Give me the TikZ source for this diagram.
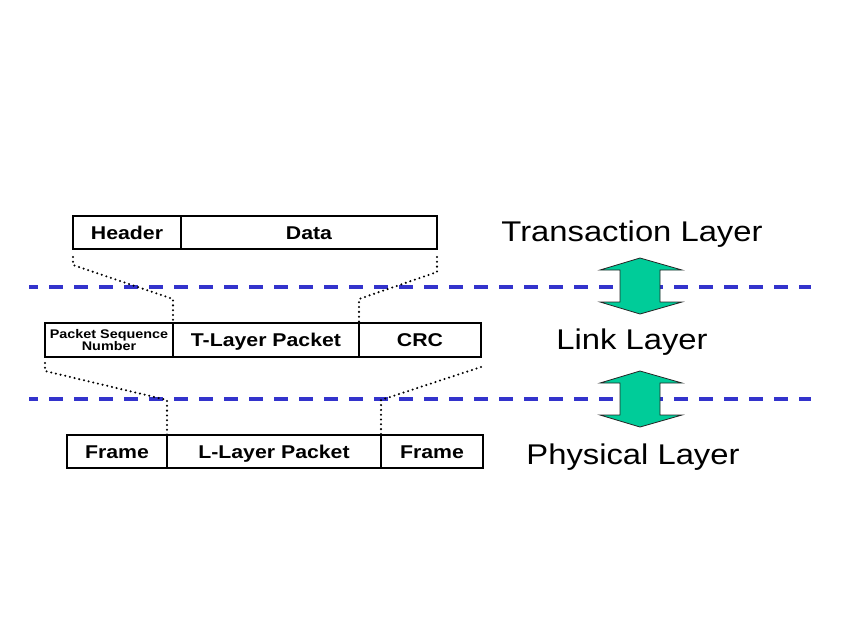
\documentclass[tikz,border=0pt]{standalone}
\usepackage{fontspec}
\usetikzlibrary{calc}
\newfontfamily\slidefont{Liberation Sans}
\newcommand{\wide}[1]{\scalebox{1.15}[1]{#1}}
\definecolor{sepblue}{RGB}{51,51,204}
\definecolor{arrowgreen}{RGB}{0,204,153}

\begin{document}
\begin{tikzpicture}[
    x=1pt,
    y=-1pt,
    every node/.style={font=\slidefont},
    cell/.style={draw, line width=2pt, rectangle, anchor=north west, inner sep=0pt, outer sep=0pt,
        text height=13.2pt, text depth=0pt, font=\slidefont\bfseries\fontsize{18.5}{20}\selectfont},
    layer/.style={anchor=base, font=\slidefont\fontsize{28.5}{30}\selectfont},
    sep/.style={sepblue, line width=3.3pt, dash pattern=on 14pt off 11pt, dash phase=5pt},
    dots/.style={line width=2.3pt, line cap=round, dash pattern=on 0pt off 4.8pt},
    updown/.style={fill=arrowgreen, draw=black!85, line width=0.8pt, line join=miter}
]

    \useasboundingbox (0,0) rectangle (850,638);

    \node[cell, minimum width=108, minimum height=33] (hdr) at (73,216) {\wide{Header}};
    \node[cell, minimum width=256, minimum height=33] (data) at (hdr.north east) {\wide{Data}};

    \node[cell, minimum width=128, minimum height=34, text height=, text depth=, align=center,
        font=\slidefont\bfseries\fontsize{12.5}{13}\selectfont] (psn) at (45,323) {\wide{Packet Sequence}\\[-1pt]\wide{Number}};
    \node[cell, minimum width=186, minimum height=34] (tlp) at (psn.north east) {\wide{T-Layer Packet}};
    \node[cell, minimum width=122, minimum height=34] (crc) at (tlp.north east) {\wide{CRC}};

    \node[cell, minimum width=100, minimum height=33] (frl) at (67,435) {\wide{Frame}};
    \node[cell, minimum width=214, minimum height=33] (llp) at (frl.north east) {\wide{L-Layer Packet}};
    \node[cell, minimum width=102, minimum height=33] (frr) at (llp.north east) {\wide{Frame}};

    \node[layer] (trans) at (632,241) {\wide{Transaction Layer}};
    \node[layer] (link) at (632,349) {\wide{Link Layer}};
    \node[layer] (phys) at (633,464) {\wide{Physical Layer}};

    \draw[sep] (29,287) -- (811,287);
    \draw[sep] (29,399) -- (811,399);

    \foreach \ya in {258,371}
        \draw[updown] (640,\ya) -- (682,\ya+12) -- (660,\ya+12) -- (660,\ya+44) -- (682,\ya+44)
            -- (640,\ya+56) -- (600,\ya+44) -- (620,\ya+44) -- (620,\ya+12) -- (600,\ya+12) -- cycle;

    \draw[dots] ($(hdr.south west)+(0,8)$) -- ++(0,8) -- ($(tlp.north west)+(0,-24)$) -- (tlp.north west);
    \draw[dots] ($(data.south east)+(0,8)$) -- ++(0,15) -- ($(tlp.north east)+(0,-24)$) -- (tlp.north east);
    \draw[dots] ($(psn.south west)+(0,6)$) -- ++(0,8) -- ($(llp.north west)+(0,-35)$) -- (llp.north west);
    \draw[dots] ($(crc.south east)+(0,10)$) -- ($(llp.north east)+(0,-35)$) -- (llp.north east);

\end{tikzpicture}
\end{document}
